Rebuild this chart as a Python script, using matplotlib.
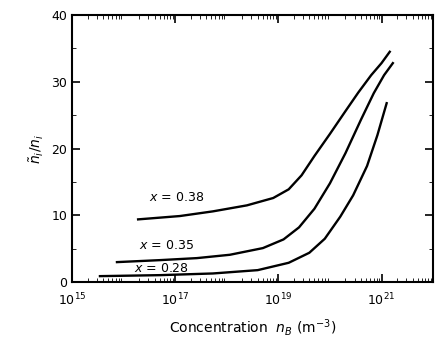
import numpy as np
import matplotlib.pyplot as plt
from matplotlib.ticker import MultipleLocator, LogLocator, NullFormatter

# curve data (log10 of concentration, ratio)
logn_38 = [16.28, 17.09, 17.73, 18.39, 18.9, 19.2, 19.45, 19.7, 20.0, 20.3, 20.55, 20.8, 21.0, 21.16]
ratio_38 = [9.4, 9.9, 10.6, 11.5, 12.6, 13.9, 16.0, 18.9, 22.2, 25.6, 28.4, 31.0, 32.8, 34.5]

logn_35 = [15.87, 16.71, 17.42, 18.06, 18.7, 19.1, 19.4, 19.7, 20.0, 20.3, 20.6, 20.85, 21.05, 21.22]
ratio_35 = [3.0, 3.3, 3.6, 4.1, 5.1, 6.4, 8.2, 11.0, 14.8, 19.3, 24.3, 28.3, 31.0, 32.8]

logn_28 = [15.54, 16.71, 17.73, 18.6, 19.2, 19.6, 19.9, 20.2, 20.45, 20.72, 20.92, 21.1]
ratio_28 = [0.9, 1.05, 1.3, 1.8, 2.9, 4.4, 6.5, 9.8, 13.0, 17.4, 22.0, 26.8]

labels = ["$x$ = 0.38", "$x$ = 0.35", "$x$ = 0.28"]
label_pos = [(16.5, 12.7), (16.3, 5.5), (16.2, 2.0)]

fig = plt.figure(figsize=(4.37, 3.42), dpi=100)
ax = fig.add_axes([0.165, 0.175, 0.826, 0.781])

for lx, ly in [(logn_38, ratio_38), (logn_35, ratio_35), (logn_28, ratio_28)]:
    ax.plot(10**np.array(lx), ly, "k-", lw=1.7)

for lab, (px, py) in zip(labels, label_pos):
    ax.text(10**px, py, lab, fontsize=9, ha="left", va="center")

ax.set_xscale("log")
ax.set_xlim(1e15, 1e22)
ax.set_ylim(0, 40)
ax.set_xticks([1e15, 1e17, 1e19, 1e21])
ax.xaxis.set_minor_locator(LogLocator(base=10, subs=np.arange(2, 10), numticks=20))
ax.xaxis.set_minor_formatter(NullFormatter())
ax.yaxis.set_major_locator(MultipleLocator(10))
ax.yaxis.set_minor_locator(MultipleLocator(5))
ax.tick_params(which="both", direction="in", top=True, right=True, labelsize=9)
ax.tick_params(axis="x", which="major", pad=7)
ax.tick_params(which="major", length=6, width=1.2)
ax.tick_params(which="minor", length=3)
for s in ax.spines.values():
    s.set_linewidth(1.5)

ax.set_xlabel("Concentration  $n_B$ (m$^{-3}$)", fontsize=10, labelpad=6)
ax.set_ylabel(r"$\tilde{n}_i/n_i$", fontsize=10)

plt.savefig("out.png", dpi=100)
